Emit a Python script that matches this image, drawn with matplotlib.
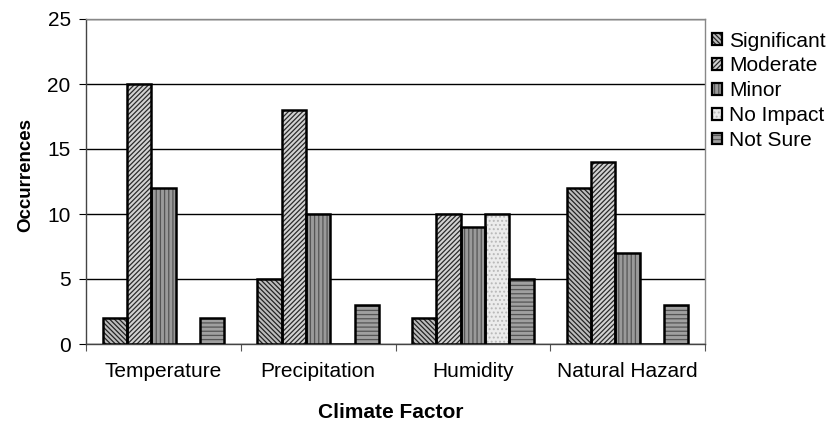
import numpy as np
import matplotlib
matplotlib.use("Agg")
import matplotlib.pyplot as plt
from matplotlib.patches import Patch
from matplotlib.legend_handler import HandlerTuple

plt.rcParams['font.family'] = ['Liberation Sans', 'DejaVu Sans']
plt.rcParams['hatch.linewidth'] = 0.9

categories = ["Temperature", "Precipitation", "Humidity", "Natural Hazard"]
series_names = ["Significant", "Moderate", "Minor", "No Impact", "Not Sure"]
significant = [2, 5, 2, 12]
moderate = [20, 18, 10, 14]
minor = [12, 10, 9, 7]
no_impact = [0, 0, 10, 0]
not_sure = [2, 3, 5, 3]
y_ticks = [0, 5, 10, 15, 20, 25]

series_values = [significant, moderate, minor, no_impact, not_sure]
face_colors = ["#bdbdbd", "#d2d2d2", "#9a9a9a", "#ececec", "#a0a0a0"]
hatch_colors = ["#222222", "#2a2a2a", "#555555", "#b8b8b8", "#555555"]
hatches = ["\\\\\\\\\\\\\\", "///////", "||||", "....", "----"]

fig = plt.figure(figsize=(8.35, 4.28), dpi=100)
ax = fig.add_axes([86 / 835, 1 - 344 / 428, (705 - 86) / 835, (344 - 19) / 428])

x = np.arange(len(categories))
bar_w = 0.157
offsets = (np.arange(5) - 2) * bar_w

legend_handles = []
for i, (name, vals) in enumerate(zip(series_names, series_values)):
    ax.bar(x + offsets[i], vals, width=bar_w, facecolor=face_colors[i],
           edgecolor=hatch_colors[i], hatch=hatches[i], linewidth=0, zorder=3)
    # black outline on top of hatched fill
    ax.bar(x + offsets[i], vals, width=bar_w, facecolor="none",
           edgecolor="black", linewidth=1.8, zorder=4)
    fill = Patch(facecolor=face_colors[i], edgecolor=hatch_colors[i],
                 hatch=hatches[i], linewidth=0)
    outline = Patch(facecolor="none", edgecolor="black", linewidth=1.6)
    legend_handles.append((fill, outline))

ax.set_xlim(-0.5, len(categories) - 0.5)
ax.set_ylim(0, 25)
ax.set_yticks(y_ticks)
ax.yaxis.grid(True, color="black", linewidth=1.0, zorder=0)
ax.set_axisbelow(True)

ax.set_xticks(np.arange(len(categories) + 1) - 0.5)
ax.set_xticklabels([])
ax.set_xticks(x, minor=True)
ax.set_xticklabels(categories, minor=True)
ax.tick_params(axis="x", which="major", direction="out", length=5, color="#555555")
ax.tick_params(axis="x", which="minor", length=0, pad=13, labelsize=15)
ax.tick_params(axis="y", direction="out", length=5, labelsize=15, pad=6)

for s in ["top", "right"]:
    ax.spines[s].set_color("#888888")
    ax.spines[s].set_linewidth(1.0)
for s in ["left", "bottom"]:
    ax.spines[s].set_color("#444444")
    ax.spines[s].set_linewidth(1.0)

ax.set_xlabel("Climate Factor", fontsize=15, fontweight="bold")
ax.set_ylabel("Occurrences", fontsize=13.5, fontweight="bold")
ax.xaxis.set_label_coords(0.492, -0.18)
ax.yaxis.set_label_coords(-0.083, 0.52)

leg = fig.legend(legend_handles, series_names, loc="upper left",
                 handler_map={tuple: HandlerTuple(ndivide=1, pad=0)},
                 bbox_to_anchor=(697 / 835, 1 - 17 / 428), frameon=False,
                 fontsize=15, handlelength=0.5, handleheight=0.5,
                 handletextpad=0.35, labelspacing=0.28, borderpad=0.2)

fig.savefig("out.png", dpi=100)
